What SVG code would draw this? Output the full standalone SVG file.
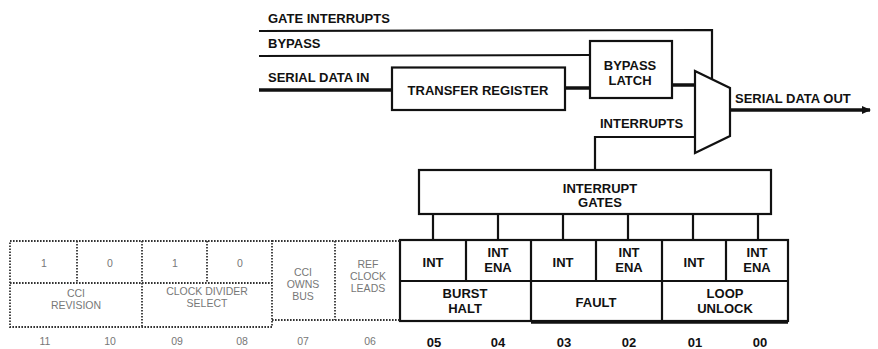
<svg xmlns="http://www.w3.org/2000/svg" width="878" height="349" viewBox="0 0 878 349">
<defs>
<style>
.t{font-family:"Liberation Sans",Arial,sans-serif;font-weight:bold;fill:#111;font-size:13px}
.c{text-anchor:middle}
.box{fill:#fff;stroke:#111;stroke-width:2.2}
.ln{fill:none;stroke:#111;stroke-width:2.2}
.thick{fill:none;stroke:#111;stroke-width:3.5}
.dot{fill:none;stroke:#333;stroke-width:1.8;stroke-dasharray:1.6 1.4}
.dt{font-family:"Liberation Sans",Arial,sans-serif;fill:#777;font-size:10.5px;text-anchor:middle}
</style>
<marker id="arr" markerWidth="10" markerHeight="8" refX="8" refY="4" orient="auto" markerUnits="userSpaceOnUse">
<path d="M0,0 L9,4 L0,8 Z" fill="#111"/>
</marker>
</defs>
<rect width="878" height="349" fill="#fff"/>

<g id="connectors">
<polyline class="ln" points="259,31 712,30 712,80"/>
<line class="ln" x1="259" y1="56" x2="590" y2="55"/>
<line class="thick" x1="259" y1="90" x2="392" y2="90"/>
<line class="thick" x1="565" y1="88" x2="590" y2="88"/>
<line class="thick" x1="672" y1="85" x2="695" y2="85"/>
<polyline class="ln" points="695,137 595,137 595,170"/>
<line class="thick" x1="730" y1="110" x2="870" y2="110" marker-end="url(#arr)"/>
<line class="ln" x1="433" y1="214" x2="433" y2="240"/>
<line class="ln" x1="498" y1="214" x2="498" y2="240"/>
<line class="ln" x1="563" y1="214" x2="563" y2="240"/>
<line class="ln" x1="628" y1="214" x2="628" y2="240"/>
<line class="ln" x1="693" y1="214" x2="693" y2="240"/>
<line class="ln" x1="758" y1="214" x2="758" y2="240"/>
</g>

<g id="labels">
<text class="t" x="268" y="22.5" font-size="13.2">GATE INTERRUPTS</text>
<text class="t" x="268" y="48" font-size="14">BYPASS</text>
<text class="t" x="268" y="81.5" font-size="14">SERIAL DATA IN</text>
<text class="t" x="600" y="128">INTERRUPTS</text>
<text class="t" x="735" y="103" font-size="13.5">SERIAL DATA OUT</text>
</g>

<g id="transfer-register">
<rect class="box" x="392" y="67.5" width="173" height="42.5"/>
<text class="t c" x="478" y="95" font-size="14">TRANSFER REGISTER</text>
</g>

<g id="bypass-latch">
<rect class="box" x="590" y="41" width="82" height="57"/>
<text class="t c" x="630" y="70">BYPASS</text>
<text class="t c" x="630" y="85">LATCH</text>
</g>

<g id="mux">
<polygon class="box" points="695,71 730,88 730,136 695,153"/>
</g>

<g id="interrupt-gates">
<rect class="box" x="419" y="170" width="352" height="44"/>
<text class="t c" x="600" y="193">INTERRUPT</text>
<text class="t c" x="600" y="207">GATES</text>
</g>

<g id="status-fields">
<rect class="box" x="400" y="240" width="388" height="81"/>
<line class="ln" x1="400" y1="281" x2="788" y2="281"/>
<line class="ln" x1="466" y1="240" x2="466" y2="281"/>
<line class="ln" x1="531" y1="240" x2="531" y2="321"/>
<line class="ln" x1="596" y1="240" x2="596" y2="281"/>
<line class="ln" x1="662" y1="240" x2="662" y2="321"/>
<line class="ln" x1="726" y1="240" x2="726" y2="281"/>
<line class="thick" x1="531" y1="322" x2="788" y2="322"/>
<text class="t c" x="433" y="267">INT</text>
<text class="t c" x="498" y="257">INT</text>
<text class="t c" x="498" y="272">ENA</text>
<text class="t c" x="563" y="267">INT</text>
<text class="t c" x="629" y="257">INT</text>
<text class="t c" x="629" y="272">ENA</text>
<text class="t c" x="694" y="267">INT</text>
<text class="t c" x="757" y="257">INT</text>
<text class="t c" x="757" y="272">ENA</text>
<text class="t c" x="465" y="298">BURST</text>
<text class="t c" x="465" y="313">HALT</text>
<text class="t c" x="596" y="307">FAULT</text>
<text class="t c" x="725" y="298">LOOP</text>
<text class="t c" x="725" y="313">UNLOCK</text>
<text class="t c" x="434" y="347" font-size="14.5">05</text>
<text class="t c" x="498" y="347" font-size="14.5">04</text>
<text class="t c" x="564" y="347" font-size="14.5">03</text>
<text class="t c" x="629" y="347" font-size="14.5">02</text>
<text class="t c" x="695" y="347" font-size="14.5">01</text>
<text class="t c" x="760" y="347" font-size="14.5">00</text>
</g>

<g id="reserved-fields">
<rect class="dot" x="10" y="241" width="262" height="86"/>
<line class="dot" x1="10" y1="283" x2="272" y2="283"/>
<line class="dot" x1="77" y1="241" x2="77" y2="283"/>
<line class="dot" x1="142" y1="241" x2="142" y2="327"/>
<line class="dot" x1="207" y1="241" x2="207" y2="283"/>
<polyline class="dot" points="272,241 400,241"/>
<polyline class="dot" points="272,320 400,320"/>
<line class="dot" x1="335" y1="241" x2="335" y2="320"/>
<text class="dt" x="44" y="267">1</text>
<text class="dt" x="110" y="267">0</text>
<text class="dt" x="175" y="267">1</text>
<text class="dt" x="240" y="267">0</text>
<text class="dt" x="76" y="297">CCI</text>
<text class="dt" x="76" y="309">REVISION</text>
<text class="dt" x="207" y="295">CLOCK DIVIDER</text>
<text class="dt" x="207" y="307">SELECT</text>
<text class="dt" x="303" y="276">CCI</text>
<text class="dt" x="303" y="288">OWNS</text>
<text class="dt" x="303" y="300">BUS</text>
<text class="dt" x="368" y="268">REF</text>
<text class="dt" x="368" y="280">CLOCK</text>
<text class="dt" x="368" y="292">LEADS</text>
<text class="dt" x="45" y="345" font-size="11.5">11</text>
<text class="dt" x="110" y="345" font-size="11.5">10</text>
<text class="dt" x="177" y="345" font-size="11.5">09</text>
<text class="dt" x="242" y="345" font-size="11.5">08</text>
<text class="dt" x="303" y="345" font-size="11.5">07</text>
<text class="dt" x="370" y="345" font-size="11.5">06</text>
</g>
</svg>
